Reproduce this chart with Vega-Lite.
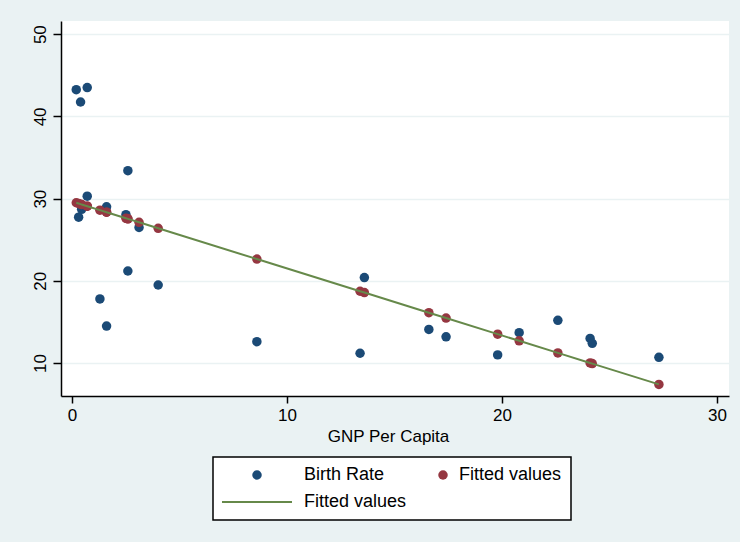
{
  "$schema": "https://vega.github.io/schema/vega-lite/v6.json",
  "width": 668,
  "height": 375,
  "autosize": {"type": "none"},
  "padding": {"left": 61, "top": 21, "right": 11, "bottom": 146},
  "background": "#eaf2f3",
  "config": {
    "view": {"fill": "white", "stroke": null},
    "font": "Liberation Sans",
    "axis": {
      "domainColor": "black",
      "domainWidth": 1.5,
      "tickColor": "black",
      "tickWidth": 1.5,
      "labelColor": "black",
      "titleColor": "black",
      "labelFont": "Liberation Sans",
      "titleFont": "Liberation Sans",
      "labelFontSize": 17,
      "titleFontSize": 17,
      "titleFontWeight": "normal"
    },
    "legend": {
      "labelFont": "Liberation Sans",
      "labelFontSize": 18,
      "labelColor": "black",
      "symbolSize": 90,
      "symbolStrokeWidth": 0
    }
  },
  "data": {
    "values": [
      {"gnp": 0.20, "birth": 43.25, "fitted": 29.50},
      {"gnp": 0.71, "birth": 43.5, "fitted": 29.08},
      {"gnp": 0.40, "birth": 41.75, "fitted": 29.33},
      {"gnp": 2.60, "birth": 33.4, "fitted": 27.54},
      {"gnp": 0.71, "birth": 30.3, "fitted": 29.08},
      {"gnp": 0.31, "birth": 27.75, "fitted": 29.41},
      {"gnp": 0.45, "birth": 28.7, "fitted": 29.29},
      {"gnp": 1.61, "birth": 29.0, "fitted": 28.35},
      {"gnp": 2.51, "birth": 28.05, "fitted": 27.61},
      {"gnp": 3.12, "birth": 26.5, "fitted": 27.12},
      {"gnp": 2.60, "birth": 21.2, "fitted": 27.54},
      {"gnp": 4.01, "birth": 19.5, "fitted": 26.39},
      {"gnp": 1.30, "birth": 17.8, "fitted": 28.60},
      {"gnp": 1.61, "birth": 14.5, "fitted": 28.35},
      {"gnp": 8.60, "birth": 12.6, "fitted": 22.65},
      {"gnp": 13.40, "birth": 11.2, "fitted": 18.74},
      {"gnp": 13.60, "birth": 20.4, "fitted": 18.58},
      {"gnp": 16.60, "birth": 14.1, "fitted": 16.13},
      {"gnp": 17.40, "birth": 13.2, "fitted": 15.48},
      {"gnp": 19.80, "birth": 11.0, "fitted": 13.52},
      {"gnp": 20.80, "birth": 13.7, "fitted": 12.71},
      {"gnp": 22.60, "birth": 15.2, "fitted": 11.24},
      {"gnp": 24.10, "birth": 13.0, "fitted": 10.02},
      {"gnp": 24.20, "birth": 12.4, "fitted": 9.94},
      {"gnp": 27.30, "birth": 10.7, "fitted": 7.41}
    ]
  },
  "encoding": {
    "x": {
      "field": "gnp",
      "type": "quantitative",
      "scale": {"domain": [-0.51, 30.56], "nice": false, "zero": false},
      "axis": {
        "values": [0, 10, 20, 30],
        "grid": false,
        "tickSize": 7,
        "labelPadding": 4,
        "title": "GNP Per Capita",
        "titleX": 327,
        "titleY": 45,
        "titleBaseline": "alphabetic",
        "titleAlign": "center"
      }
    }
  },
  "layer": [
    {
      "mark": {"type": "point", "filled": true, "size": 90, "opacity": 1},
      "encoding": {
        "y": {
          "field": "birth",
          "type": "quantitative",
          "scale": {"domain": [6, 51.6], "nice": false, "zero": false},
          "axis": {
            "values": [10, 20, 30, 40, 50],
            "grid": true,
            "gridColor": "#eaf2f3",
            "gridWidth": 1.5,
            "tickSize": 8,
            "labelPadding": 8,
            "labelAngle": -90,
            "labelAlign": "center",
            "labelBaseline": "alphabetic",
            "title": null
          }
        },
        "color": {
          "datum": "Birth Rate",
          "type": "nominal",
          "scale": {
            "domain": ["Birth Rate", "Fitted values", "Fitted values "],
            "range": ["#1b4a76", "#953741", "#66894a"]
          },
          "legend": {
            "title": null,
            "values": ["Birth Rate", "Fitted values ", "Fitted values"],
            "orient": "none",
            "legendX": 152,
            "legendY": 436,
            "columns": 2,
            "columnPadding": 0,
            "rowPadding": 9,
            "padding": 9,
            "symbolOffset": 26,
            "labelOffset": 38,
            "strokeColor": "black",
            "fillColor": "white",
            "cornerRadius": 0,
            "encode": {
              "legend": {"update": {"strokeWidth": {"value": 1.5}}},
              "symbols": {
                "update": {
                  "shape": {"signal": "datum.index === 1 ? 'M-7.38,-0.21H7.38V0.21H-7.38Z' : 'circle'"},
                  "x": {"signal": "datum.index === 2 ? 36 : 35"}
                }
              },
              "labels": {
                "update": {"x": {"signal": "datum.index === 2 ? 52 : 82"}}
              }
            }
          }
        }
      }
    },
    {
      "mark": {"type": "point", "filled": true, "size": 90, "opacity": 1},
      "encoding": {
        "y": {"field": "fitted", "type": "quantitative"},
        "color": {
          "datum": "Fitted values",
          "type": "nominal",
          "legend": {
            "title": null,
            "values": ["Birth Rate", "Fitted values ", "Fitted values"],
            "orient": "none",
            "legendX": 152,
            "legendY": 436,
            "columns": 2,
            "columnPadding": 0,
            "rowPadding": 9,
            "padding": 9,
            "symbolOffset": 26,
            "labelOffset": 38,
            "strokeColor": "black",
            "fillColor": "white",
            "cornerRadius": 0,
            "encode": {
              "legend": {"update": {"strokeWidth": {"value": 1.5}}},
              "symbols": {
                "update": {
                  "shape": {"signal": "datum.index === 1 ? 'M-7.38,-0.21H7.38V0.21H-7.38Z' : 'circle'"},
                  "x": {"signal": "datum.index === 2 ? 36 : 35"}
                }
              },
              "labels": {
                "update": {"x": {"signal": "datum.index === 2 ? 52 : 82"}}
              }
            }
          }
        }
      }
    },
    {
      "mark": {"type": "line", "strokeWidth": 2},
      "encoding": {
        "y": {"field": "fitted", "type": "quantitative"},
        "color": {
          "datum": "Fitted values ",
          "type": "nominal",
          "legend": {
            "title": null,
            "values": ["Birth Rate", "Fitted values ", "Fitted values"],
            "orient": "none",
            "legendX": 152,
            "legendY": 436,
            "columns": 2,
            "columnPadding": 0,
            "rowPadding": 9,
            "padding": 9,
            "symbolOffset": 26,
            "labelOffset": 38,
            "strokeColor": "black",
            "fillColor": "white",
            "cornerRadius": 0,
            "encode": {
              "legend": {"update": {"strokeWidth": {"value": 1.5}}},
              "symbols": {
                "update": {
                  "shape": {"signal": "datum.index === 1 ? 'M-7.38,-0.21H7.38V0.21H-7.38Z' : 'circle'"},
                  "x": {"signal": "datum.index === 2 ? 36 : 35"}
                }
              },
              "labels": {
                "update": {"x": {"signal": "datum.index === 2 ? 52 : 82"}}
              }
            }
          }
        }
      }
    }
  ]
}
